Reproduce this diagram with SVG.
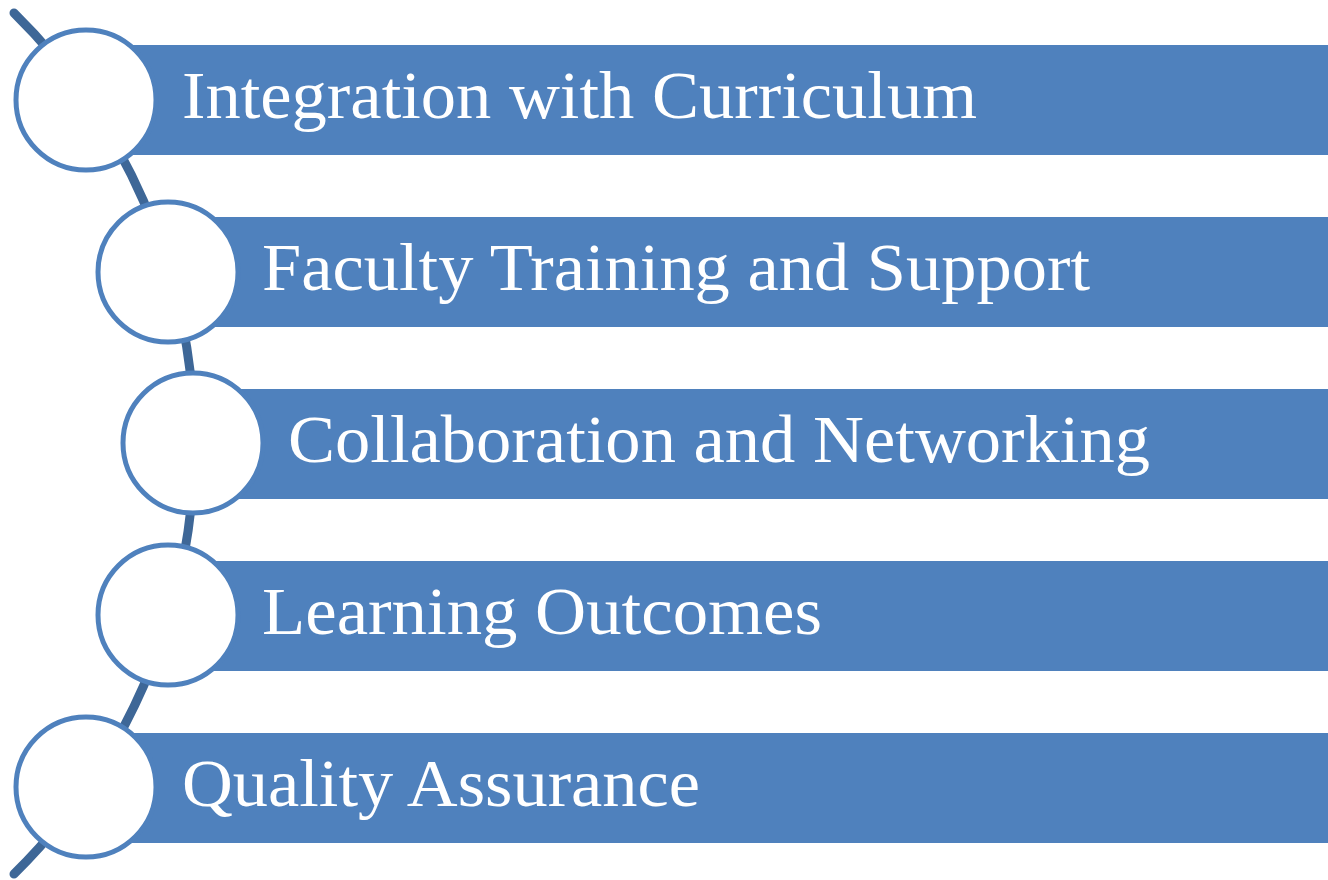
<svg xmlns="http://www.w3.org/2000/svg" width="1328" height="880" viewBox="0 0 1328 880">
<style>
.bar{fill:#4f81bd;}
.dot{fill:#ffffff;stroke:#4f81bd;stroke-width:5;}
.lbl{font-family:"Liberation Serif","DejaVu Serif",serif;font-size:68px;fill:#ffffff;}
.arc{fill:none;stroke:#3e6797;stroke-width:9;stroke-linecap:round;}
</style>
<rect width="1328" height="880" fill="#ffffff"/>
<g id="connectors">
<path class="arc" d="M 14 13 A 604 604 0 0 1 14 874"/>
</g>
<g id="node1">
<rect class="bar" x="88" y="45" width="1240" height="110"/>
<circle class="dot" cx="86" cy="100" r="70"/>
<text class="lbl" x="182" y="118" textLength="795" lengthAdjust="spacingAndGlyphs">Integration with Curriculum</text>
</g>
<g id="node2">
<rect class="bar" x="170" y="217" width="1158" height="110"/>
<circle class="dot" cx="168" cy="272" r="70"/>
<text class="lbl" x="262" y="290" textLength="828" lengthAdjust="spacingAndGlyphs">Faculty Training and Support</text>
</g>
<g id="node3">
<rect class="bar" x="195" y="389" width="1133" height="110"/>
<circle class="dot" cx="193" cy="443" r="70"/>
<text class="lbl" x="288" y="462" textLength="862" lengthAdjust="spacingAndGlyphs">Collaboration and Networking</text>
</g>
<g id="node4">
<rect class="bar" x="170" y="561" width="1158" height="110"/>
<circle class="dot" cx="168" cy="615" r="70"/>
<text class="lbl" x="262" y="634" textLength="560" lengthAdjust="spacingAndGlyphs">Learning Outcomes</text>
</g>
<g id="node5">
<rect class="bar" x="88" y="733" width="1240" height="110"/>
<circle class="dot" cx="86" cy="787" r="70"/>
<text class="lbl" x="182" y="806" textLength="518" lengthAdjust="spacingAndGlyphs">Quality Assurance</text>
</g>
</svg>
